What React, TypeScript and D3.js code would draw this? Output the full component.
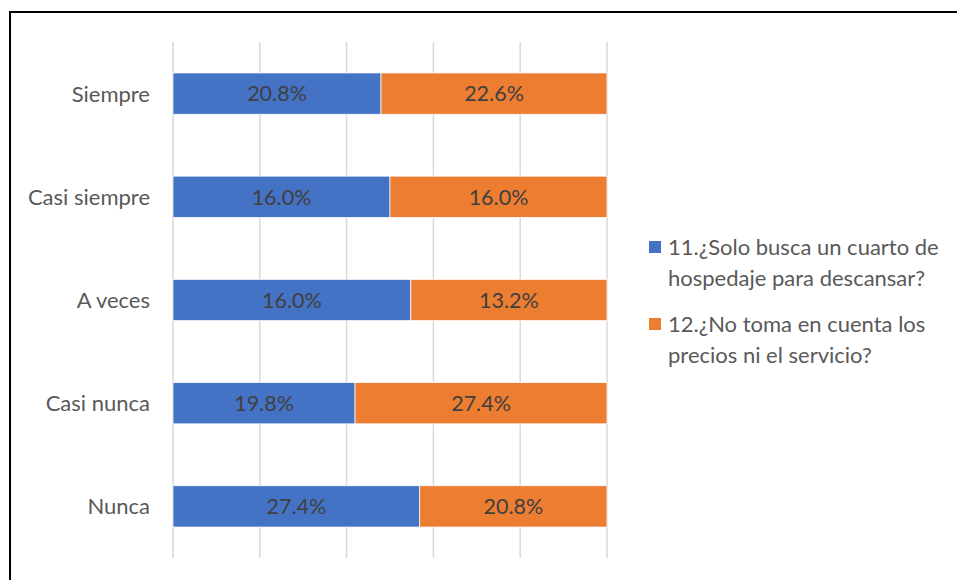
import React from "react";
import * as d3 from "d3";

const categories = ["Siempre", "Casi siempre", "A veces", "Casi nunca", "Nunca"];
const series1 = [20.8, 16.0, 16.0, 19.8, 27.4];
const series2 = [22.6, 16.0, 13.2, 27.4, 20.8];
const seriesNames = [
  ["11.¿Solo busca un cuarto de", "hospedaje para descansar?"],
  ["12.¿No toma en cuenta los", "precios ni el servicio?"],
];
const colors = ["#4472C4", "#ED7D31"];
const ticks = [0, 0.2, 0.4, 0.6, 0.8, 1];

export default function App() {
  const W = 957, H = 580;
  const left = 173, right = 607, top = 42, bottom = 558;
  const x = d3.scaleLinear().domain([0, 1]).range([left, right]);
  const y = d3.scaleBand().domain(categories).range([top, bottom]).paddingInner(0.6).paddingOuter(0.3);
  const font = "Lato, 'Open Sans', sans-serif";
  const data = categories.map((c, i) => {
    const tot = series1[i] + series2[i];
    return { c, a: series1[i], b: series2[i], fa: series1[i] / tot };
  });
  return (
    <svg width={W} height={H} style={{ position: "absolute", left: 0, top: 0 }}>
      <rect x={0} y={0} width={W} height={H} fill="#fff" />
      <rect x={10} y={12} width={W} height={H} fill="none" stroke="#000" strokeWidth={2} />
      {ticks.map((t) => (
        <line key={t} x1={x(t)} x2={x(t)} y1={top} y2={bottom} stroke="#D9D9D9" strokeWidth={1.5} />
      ))}
      {data.map((d) => {
        const by = y(d.c)!;
        const bh = y.bandwidth();
        const xm = x(d.fa);
        return (
          <g key={d.c}>
            <rect x={x(0)} y={by} width={xm - x(0)} height={bh} fill={colors[0]} stroke="#fff" strokeWidth={0.75} />
            <rect x={xm} y={by} width={x(1) - xm} height={bh} fill={colors[1]} stroke="#fff" strokeWidth={0.75} />
            <text x={(x(0) + xm) / 2} y={by + bh / 2} dy="0.36em" textAnchor="middle" fontSize={21.5} fill="#404040" fontFamily={font}>
              {d.a.toFixed(1)}%
            </text>
            <text x={(xm + x(1)) / 2} y={by + bh / 2} dy="0.36em" textAnchor="middle" fontSize={21.5} fill="#404040" fontFamily={font}>
              {d.b.toFixed(1)}%
            </text>
            <text x={150} y={by + bh / 2} dy="0.36em" textAnchor="end" fontSize={22} fill="#595959" fontFamily={font}>
              {d.c}
            </text>
          </g>
        );
      })}
      {seriesNames.map((lines, i) => {
        const ly = 247 + i * 77;
        return (
          <g key={i}>
            <rect x={649} y={ly - 6} width={12} height={12} fill={colors[i]} />
            {lines.map((l, j) => (
              <text key={j} x={668} y={ly + j * 31} dy="0.36em" fontSize={22} fill="#595959" fontFamily={font}>
                {l}
              </text>
            ))}
          </g>
        );
      })}
    </svg>
  );
}
